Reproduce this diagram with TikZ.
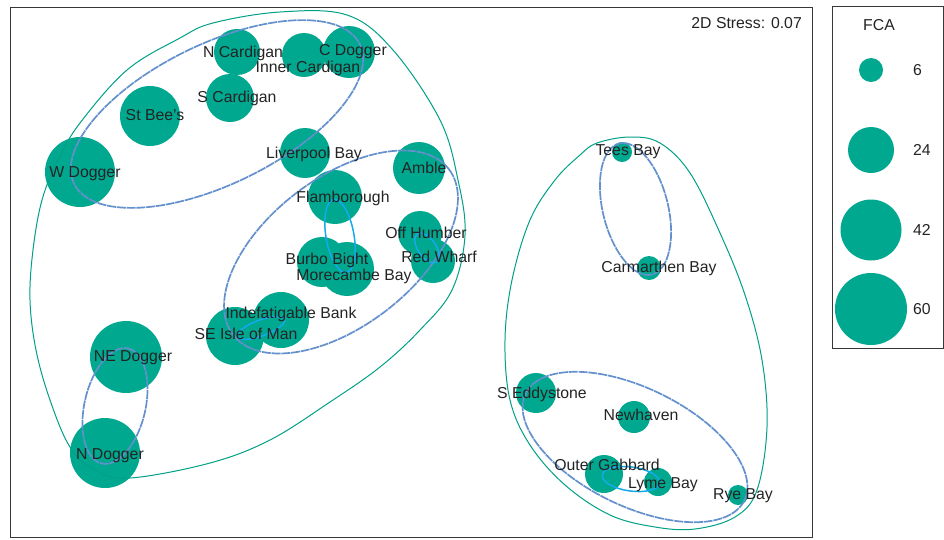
\documentclass[tikz,border=0pt]{standalone}
\usepackage{fontspec}
\setmainfont{Liberation Sans}
\begin{document}
\definecolor{dotfill}{RGB}{0,168,143}
\definecolor{hullteal}{RGB}{0,160,135}
\definecolor{hullblue}{RGB}{100,145,205}
\definecolor{hullcyan}{RGB}{20,170,235}
\definecolor{ink}{RGB}{35,35,35}
\definecolor{framegray}{RGB}{55,55,55}
\begin{tikzpicture}[x=1pt,y=-1pt,
  site/.style={circle,fill=dotfill,draw=none,inner sep=0pt,minimum size=#1},
  tag/.style={font=\fontsize{15.8}{18}\selectfont,text=ink,inner sep=0pt,
    text height=11.3pt,text depth=0pt},
  hullouter/.style={draw=hullteal,line width=1pt},
  hullmid/.style={draw=hullblue,line width=1.7pt,dash pattern=on 9pt off 0.8pt},
  hullinner/.style={draw=hullcyan,line width=1.5pt},
  panel/.style={draw=framegray,line width=0.8pt}]
\useasboundingbox (0,0) rectangle (944,539);

% plot frame and legend frame
\draw[panel] (10,7) rectangle (812,537);
\draw[panel] (832,6) rectangle (943,348);

% sites, sized by FCA
\node[site=60pt] (stbees) at (150,116) {};
\node[site=70pt] (wdogger) at (80,172) {};
\node[site=46pt] (ncard) at (237,52) {};
\node[site=44pt] (inner) at (304,55) {};
\node[site=52pt] (cdogger) at (349,52) {};
\node[site=48pt] (scard) at (230,98) {};
\node[site=50pt] (liverpool) at (305,153) {};
\node[site=52pt] (amble) at (419,168) {};
\node[site=54pt] (flam) at (335,197) {};
\node[site=44pt] (offhumber) at (420,233) {};
\node[site=44pt] (redwharf) at (433,261) {};
\node[site=50pt] (burbo) at (322,262) {};
\node[site=54pt] (morecambe) at (347,269) {};
\node[site=56pt] (indef) at (281,320) {};
\node[site=58pt] (seiom) at (235,336) {};
\node[site=72pt] (nedogger) at (126,357) {};
\node[site=70pt] (ndogger) at (105,453) {};
\node[site=20pt] (tees) at (622,152) {};
\node[site=24pt] (carmarthen) at (649,268) {};
\node[site=40pt] (seddy) at (536,393) {};
\node[site=32pt] (newhaven) at (634,417) {};
\node[site=38pt] (outerg) at (604,474) {};
\node[site=28pt] (lyme) at (658,482) {};
\node[site=20pt] (rye) at (738,495) {};

% outer cluster outlines
\draw[hullouter] plot[smooth cycle, tension=0.6] coordinates {
  (180,38) (213,23) (280,12) (347,15) (393,50) (440,120) (458,180) (465,235)
  (452,290) (420,330) (380,367) (330,402) (270,440) (210,463) (130,478)
  (95,470) (70,447) (50,400) (36,350) (30,300) (33,250) (42,200) (58,160)
  (80,123) (127,70)};
\draw[hullouter] plot[smooth cycle, tension=0.6] coordinates {
  (580,155) (597,143) (630,137) (660,143) (690,173) (720,233) (745,295)
  (762,360) (767,427) (757,490) (735,517) (695,529) (655,527) (610,515)
  (565,485) (530,445) (510,400) (505,340) (512,280) (530,220) (555,180)};

% middle-level cluster outlines
\draw[hullmid, rotate around={26:(217,114)}] (217,114) ellipse [x radius=159, y radius=70];
\draw[hullmid, rotate around={37.5:(341,252)}] (341,252) ellipse [x radius=136, y radius=74];
\draw[hullmid, rotate around={77:(115,406)}] (115,406) ellipse [x radius=59, y radius=30.5];
\draw[hullmid, rotate around={-76:(635.5,209)}] (635.5,209) ellipse [x radius=67.5, y radius=32.6];
\draw[hullmid, rotate around={-26:(635,447)}] (635,447) ellipse [x radius=121.7, y radius=59];

% inner cluster outlines
\draw[hullinner, rotate around={-80:(340,236)}] (340,236) ellipse [x radius=37, y radius=14];
\draw[hullinner, rotate around={-55:(427,248)}] (427,248) ellipse [x radius=17, y radius=9];
\draw[hullinner, rotate around={20:(261,328)}] (261,328) ellipse [x radius=25, y radius=8];
\draw[hullinner, rotate around={-8:(631,479)}] (631,479) ellipse [x radius=29, y radius=12];

% site names
\node[tag] (stbees-t) at (155,115) {St Bee's};
\node[tag] (wdogger-t) at (85,172) {W Dogger};
\node[tag] (ncard-t) at (243,52) {N Cardigan};
\node[tag] (cdogger-t) at (353,50) {C Dogger};
\node[tag] (inner-t) at (308,67) {Inner Cardigan};
\node[tag] (scard-t) at (237,97) {S Cardigan};
\node[tag] (liverpool-t) at (314,153) {Liverpool Bay};
\node[tag] (amble-t) at (424,168) {Amble};
\node[tag] (flam-t) at (343,197) {Flamborough};
\node[tag] (offhumber-t) at (426,233) {Off Humber};
\node[tag] (redwharf-t) at (439,257) {Red Wharf};
\node[tag] (burbo-t) at (327,259) {Burbo Bight};
\node[tag] (morecambe-t) at (354,275) {Morecambe Bay};
\node[tag] (indef-t) at (291,313) {Indefatigable Bank};
\node[tag] (seiom-t) at (246,334) {SE Isle of Man};
\node[tag] (nedogger-t) at (133,356) {NE Dogger};
\node[tag] (ndogger-t) at (110,454) {N Dogger};
\node[tag] (tees-t) at (628,150) {Tees Bay};
\node[tag] (carmarthen-t) at (659,267) {Carmarthen Bay};
\node[tag] (seddy-t) at (542,393) {S Eddystone};
\node[tag] (newhaven-t) at (641,415) {Newhaven};
\node[tag] (outerg-t) at (607,465) {Outer Gabbard};
\node[tag] (lyme-t) at (663,483) {Lyme Bay};
\node[tag] (rye-t) at (743,494) {Rye Bay};

\node[tag, anchor=east] (stress) at (802,23) {2D Stress: 0.07};

% legend
\node[tag] (fca) at (879,25) {FCA};
\node[site=24pt] (leg6) at (871,70) {};
\node[site=46pt] (leg24) at (871,150) {};
\node[site=61pt] (leg42) at (871,230) {};
\node[site=72pt] (leg60) at (871,309) {};
\node[tag, anchor=west] (leg6-t) at (913,70) {6};
\node[tag, anchor=west] (leg24-t) at (913,150) {24};
\node[tag, anchor=west] (leg42-t) at (913,230) {42};
\node[tag, anchor=west] (leg60-t) at (913,309) {60};
\end{tikzpicture}
\end{document}
